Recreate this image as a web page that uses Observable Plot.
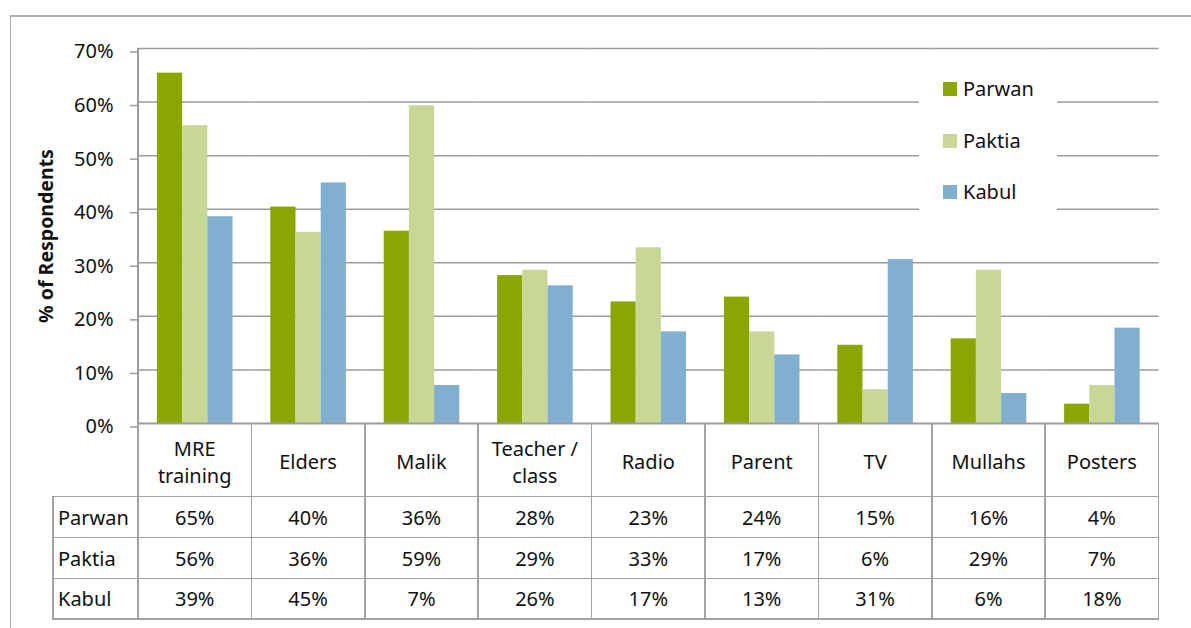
<!DOCTYPE html>
<html>
<head>
<meta charset="utf-8">
<script src="https://cdn.jsdelivr.net/npm/d3@7"></script>
<script src="https://cdn.jsdelivr.net/npm/@observablehq/plot@0.6"></script>
<style>
  html, body { margin: 0; padding: 0; background: #fff; overflow: hidden; }
  #wrap { position: relative; width: 1191px; height: 628px; font-family: "Noto Sans", sans-serif; color: #111; }
  #wrap svg { position: absolute; left: 0; top: 0; }
  .ln { position: absolute; background: #a3a3a3; }
  .cell { position: absolute; display: flex; align-items: center; justify-content: center; text-align: center; font-size: 20px; line-height: 27px; white-space: pre-line; box-sizing: border-box; }
  .head { padding-top: 4px; }
  .rowhead { justify-content: flex-start; padding-left: 5px; }
  #legend { position: absolute; background: #fff; }
  .li { position: absolute; font-size: 20px; line-height: 20px; white-space: nowrap; }
  .sw { position: absolute; width: 14px; height: 14px; }
</style>
</head>
<body>
<div id="wrap"></div>
<script>
// ---- data ----
const categories = ["MRE\ntraining", "Elders", "Malik", "Teacher /\nclass", "Radio", "Parent", "TV", "Mullahs", "Posters"];
const regions = ["Parwan", "Paktia", "Kabul"];
const parwan = [65.4, 40.4, 35.9, 27.6, 22.7, 23.6, 14.6, 15.8, 3.6];
const paktia = [55.6, 35.7, 59.3, 28.6, 32.8, 17.1, 6.3, 28.6, 7.1];
const kabul  = [38.6, 44.9, 7.1, 25.7, 17.1, 12.8, 30.6, 5.6, 17.8];
const yTicks = [0, 10, 20, 30, 40, 50, 60, 70];
const colors = ["#89a700", "#c8d696", "#81afcf"];
const yTitle = "% of Respondents";

// ---- layout ----
const W = 1191, H = 628;
const plotLeft = 138, plotRight = 1158.6, plotTop = 48, plotBottom = 423;
const rowLines = [496.5, 537.5, 578.5, 619];
const tableLeft = 53;

const series = [parwan, paktia, kabul];
const data = [];
categories.forEach((c, i) => regions.forEach((r, j) => data.push({category: c, region: r, value: series[j][i]})));

const chart = Plot.plot({
  width: W, height: H,
  marginLeft: plotLeft, marginRight: W - plotRight, marginTop: plotTop, marginBottom: H - plotBottom,
  style: {fontFamily: "Noto Sans", fontSize: "20px", color: "#111", background: "transparent"},
  fx: {domain: categories, padding: 0, round: false, axis: null},
  x: {domain: regions, paddingInner: 0, paddingOuter: 0.75, round: false, axis: null},
  y: {domain: [0, 70], axis: null},
  color: {domain: regions, range: colors},
  marks: [
    Plot.ruleY(yTicks.filter(d => d > 0), {stroke: "#9b9b9b", strokeWidth: 1.5}),
    Plot.barY(data, {fx: "category", x: "region", y: "value", fill: "region"}),
    Plot.ruleY([0], {stroke: "#9b9b9b", strokeWidth: 1.8}),
    Plot.axisY({ticks: yTicks, tickFormat: d => d + "%", tickSize: 8, tickPadding: 17, stroke: "#9b9b9b", strokeWidth: 1.5, fill: "#111", fontSize: 20, dy: 3.5, label: null}),
    Plot.text([yTitle], {frameAnchor: "left", dx: -92, dy: 0, rotate: -90, textAnchor: "middle", lineAnchor: "middle", fontWeight: "bold", fontSize: 19.5, fill: "#111", facetAnchor: "left"})
  ]
});

const wrap = document.getElementById("wrap");
wrap.appendChild(chart);

function line(x, y, w, h, color) {
  const d = document.createElement("div");
  d.className = "ln";
  Object.assign(d.style, {left: x + "px", top: y + "px", width: w + "px", height: h + "px"});
  if (color) d.style.background = color;
  wrap.appendChild(d);
}
function cell(x, y, w, h, text, cls) {
  const d = document.createElement("div");
  d.className = "cell" + (cls ? " " + cls : "");
  Object.assign(d.style, {left: x + "px", top: y + "px", width: w + "px", height: h + "px"});
  d.textContent = text;
  wrap.appendChild(d);
}

// outer frame
line(10, 15, W, 1.5, "#b0b0b0");
line(9.5, 15, 1.5, H, "#b0b0b0");

// y axis line
line(plotLeft - 0.75, plotTop, 1.5, plotBottom - plotTop, "#9b9b9b");

// data table
const colW = (plotRight - plotLeft) / categories.length;
rowLines.forEach(y => line(tableLeft, y - 0.75, plotRight - tableLeft, 1.5));
line(tableLeft - 0.75, rowLines[0] - 0.75, 1.5, rowLines[rowLines.length - 1] - rowLines[0] + 1.5);
for (let i = 0; i <= categories.length; i++) {
  line(plotLeft + i * colW - 0.75, plotBottom, 1.5, rowLines[rowLines.length - 1] - plotBottom + 0.75);
}
categories.forEach((c, i) => cell(plotLeft + i * colW, plotBottom, colW, rowLines[0] - plotBottom, c, "head"));
regions.forEach((r, j) => {
  const top = rowLines[j], h = rowLines[j + 1] - rowLines[j];
  cell(tableLeft, top, plotLeft - tableLeft, h, r, "rowhead");
  categories.forEach((c, i) => cell(plotLeft + i * colW, top, colW, h, Math.round(series[j][i]) + "%"));
});

// legend
const lg = document.createElement("div");
lg.id = "legend";
Object.assign(lg.style, {left: "919px", top: "62px", width: "138px", height: "168px"});
wrap.appendChild(lg);
regions.forEach((r, j) => {
  const sw = document.createElement("div");
  sw.className = "sw";
  Object.assign(sw.style, {left: "24px", top: (20 + j * 51.7) + "px", background: colors[j]});
  lg.appendChild(sw);
  const t = document.createElement("div");
  t.className = "li";
  Object.assign(t.style, {left: "44px", top: (17 + j * 51.7) + "px"});
  t.textContent = r;
  lg.appendChild(t);
});
</script>
</body>
</html>
